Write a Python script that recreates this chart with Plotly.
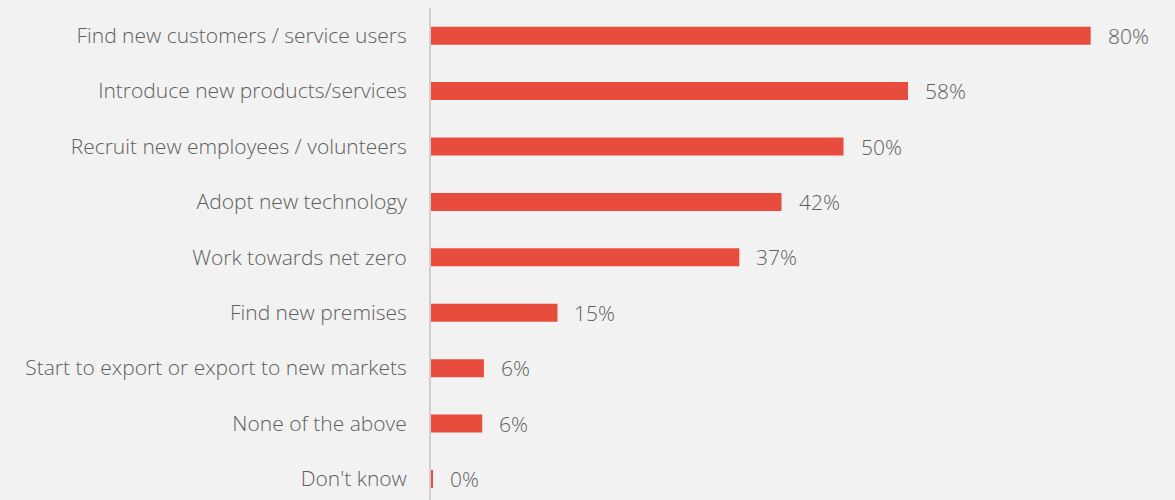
import plotly.graph_objects as go

categories = [
    "Find new customers / service users",
    "Introduce new products/services",
    "Recruit new employees / volunteers",
    "Adopt new technology",
    "Work towards net zero",
    "Find new premises",
    "Start to export or export to new markets",
    "None of the above",
    "Don't know",
]
shares = [79.8, 57.7, 49.9, 42.4, 37.3, 15.3, 6.4, 6.2, 0.2]

BAR = "#e84c3d"
TXT = "#5f5f5f"
BG = "#f2f2f2"
FONT = "Open Sans"

fig = go.Figure(
    go.Bar(
        x=shares,
        y=categories,
        orientation="h",
        marker=dict(color=BAR, line=dict(width=0)),
        hoverinfo="skip",
    )
)

# value labels to the right of each bar
for cat, v in zip(categories, shares):
    fig.add_annotation(
        x=v, y=cat, text=f"{v:.0f}%", showarrow=False,
        xanchor="left", yanchor="middle", xshift=15,
        font=dict(family=FONT, size=21, color=TXT, weight=300),
    )

fig.update_layout(
    width=1175, height=500,
    margin=dict(l=431, r=0, t=8, b=0),
    paper_bgcolor=BG, plot_bgcolor=BG,
    bargap=0.675,
    showlegend=False,
    xaxis=dict(range=[0, 90], visible=False, fixedrange=True),
    yaxis=dict(
        range=[8.38, -0.5],
        showline=True, linecolor="#cfcfcf", linewidth=2,
        showgrid=False, zeroline=False,
        ticks="", ticklabelstandoff=18,
        tickfont=dict(family=FONT, size=21, color=TXT, weight=300),
    ),
)

fig.write_html("out.html")
